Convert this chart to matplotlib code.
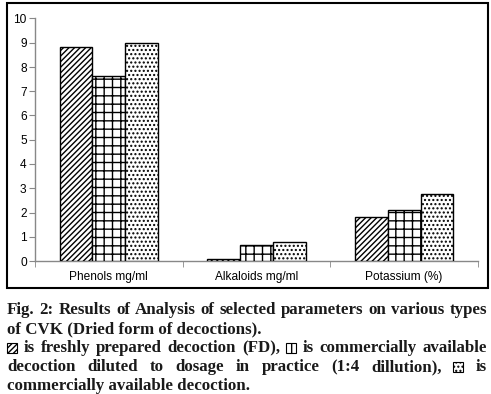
import matplotlib
matplotlib.use("Agg")
import matplotlib.pyplot as plt
from matplotlib.patches import Rectangle
import numpy as np

categories = ["Phenols mg/ml", "Alkaloids mg/ml", "Potassium (%)"]
fd = [8.84, 0.07, 1.83]
diluted = [7.64, 0.66, 2.09]
commercial = [8.98, 0.77, 2.75]
series = [fd, diluted, commercial]
hatches = ["//////", "++", "...."]
yticks = list(range(0, 11))

caption_lines = [
    ["Fig. 2: Results of Analysis of selected parameters on various types", True],
    ["of CVK (Dried form of decoctions).", False],
    ["is freshly prepared decoction (FD),  is commercially available", True],
    ["decoction diluted to dosage in practice (1:4 dillution),  is", True],
    ["commercially available decoction.", False],
]

W, H = 491, 394
fig = plt.figure(figsize=(W / 100, H / 100), dpi=100)
ax = fig.add_axes([35 / W, 1 - 261 / H, (478 - 35) / W, (261 - 18.5) / H])

x = np.arange(len(categories))
bw = 0.222
for i, (vals, h) in enumerate(zip(series, hatches)):
    ax.bar(x + (i - 1) * bw, vals, bw, facecolor="white", edgecolor="black",
           hatch=h, linewidth=1.0, zorder=3)

ax.set_xlim(-0.5, 2.5)
ax.set_ylim(0, 10)
ax.set_yticks(yticks)
ax.set_xticks(x)
ax.set_xticklabels(categories, fontsize=8.6, family="Liberation Sans")
ax.set_xticks([-0.5, 0.5, 1.5, 2.5], minor=True)
ax.tick_params(axis="x", which="major", length=0, pad=7)
ax.tick_params(axis="x", which="minor", length=4, color="#888888")
ax.tick_params(axis="y", length=4, color="#888888", labelsize=8.6, pad=2)
for lbl in ax.get_yticklabels():
    lbl.set_family("Liberation Sans")
for s in ["top", "right"]:
    ax.spines[s].set_visible(False)
for s in ["left", "bottom"]:
    ax.spines[s].set_color("#888888")
    ax.spines[s].set_linewidth(1.0)

# outer frame
fig.add_artist(Rectangle((7 / W, 1 - 288 / H), (488 - 7) / W, (288 - 3) / H,
                         transform=fig.transFigure, fill=False,
                         edgecolor="black", linewidth=1.5))

# caption with justification
fig.canvas.draw()
renderer = fig.canvas.get_renderer()
left, right = 7, 487
ys = [310, 329, 348, 367, 386]
fontkw = dict(family="Liberation Serif", fontweight="bold", fontsize=12.2,
              color="#1a1a1a", va="center", ha="left")


def word_width(w):
    t = fig.text(0, 0, w, **fontkw)
    bb = t.get_window_extent(renderer)
    t.remove()
    return bb.width


def icon(xp, yp, hatch):
    s = 10
    fig.add_artist(Rectangle((xp / W, 1 - (yp + s / 2) / H), s / W, s / H,
                             transform=fig.transFigure, facecolor="white",
                             edgecolor="black", hatch=hatch, linewidth=0.8))

icon_hatches = {2: ["//////", "+"], 3: ["...."]}
for li, ((line, justify), yp) in enumerate(zip(caption_lines, ys)):
    if not justify:
        fig.text(left / W, 1 - yp / H, line, **fontkw)
        continue
    words = [w for w in line.split(" ") if w != ""]
    if li == 2:
        items = ["ICON"] + words[:5] + ["ICON"] + words[5:]
    elif li == 3:
        items = words[:-1] + ["ICON", words[-1]]
    else:
        items = words
    widths = [11 if w == "ICON" else word_width(w) for w in items]
    gap = (right - left - sum(widths)) / (len(items) - 1)
    xp = left
    ic = 0
    for w, wd in zip(items, widths):
        if w == "ICON":
            icon(xp, yp, icon_hatches[li][ic])
            ic += 1
        else:
            fig.text(xp / W, 1 - yp / H, w, **fontkw)
        xp += wd + gap

fig.savefig("out.png", dpi=100)
